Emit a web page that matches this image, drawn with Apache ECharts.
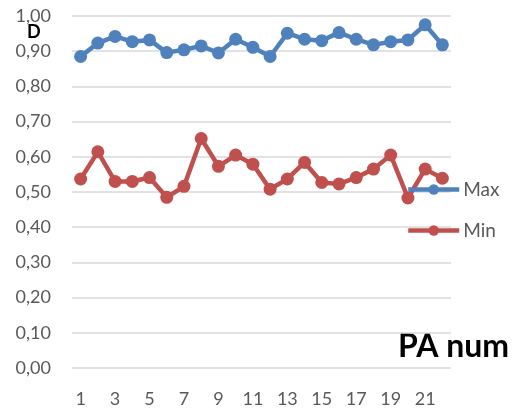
<!DOCTYPE html>
<html><head><meta charset="utf-8">
<script src="https://cdn.jsdelivr.net/npm/echarts@6/dist/echarts.min.js"></script>
<style>html,body{margin:0;padding:0;background:#fff}#c{width:516px;height:408px}</style>
</head><body><div id="c"></div>
<script>
const categories = [1,2,3,4,5,6,7,8,9,10,11,12,13,14,15,16,17,18,19,20,21,22];
const maxValues = [0.885,0.923,0.942,0.927,0.932,0.896,0.904,0.915,0.895,0.934,0.911,0.885,0.951,0.934,0.930,0.953,0.934,0.918,0.927,0.932,0.975,0.918];
const minValues = [0.537,0.614,0.530,0.530,0.541,0.485,0.516,0.652,0.573,0.605,0.579,0.508,0.537,0.584,0.527,0.523,0.541,0.565,0.605,0.483,0.565,0.539];
const seriesNames = ['Max','Min'];
const axisTitle = 'PA num';
const cornerLabel = 'D';

const font = 'Lato, "Noto Sans", sans-serif';
const colors = ['#4F81BD', '#C0504D'];
const chart = echarts.init(document.getElementById('c'));
chart.setOption({
  animation: false,
  grid: {left: 72, right: 65, top: 16, bottom: 38},
  xAxis: {
    type: 'category', data: categories, boundaryGap: true,
    axisLine: {show: false}, axisTick: {show: false},
    axisLabel: {interval: 1, color: '#595959', fontSize: 18, fontFamily: font, margin: 22}
  },
  yAxis: {
    type: 'value', min: 0, max: 1, interval: 0.1,
    axisLine: {show: false}, axisTick: {show: false},
    splitLine: {lineStyle: {color: '#d9d9d9', width: 1.5}},
    axisLabel: {color: '#595959', fontSize: 18, fontFamily: font, margin: 21,
      formatter: v => v.toFixed(2).replace('.', ',')}
  },
  legend: {
    orient: 'vertical', left: 401, top: 175, itemGap: 22,
    itemWidth: 51, itemHeight: 13,
    textStyle: {color: '#595959', fontSize: 19, fontFamily: font, padding: [0,0,0,-1]},
    data: seriesNames.map((n, i) => ({name: n, lineStyle: {width: 4.5, color: colors[i]}}))
  },
  graphic: [
    {type: 'text', left: 27, top: 23, style: {text: cornerLabel, font: 'bold 18px ' + font, fill: '#000'}},
    {type: 'text', left: 398, top: 331, style: {text: axisTitle, font: 'bold 32px ' + font, fill: '#000'}}
  ],
  series: [
    {name: seriesNames[0], type: 'line', data: maxValues, symbol: 'circle', symbolSize: 13, showAllSymbol: true,
     itemStyle: {color: colors[0]}, lineStyle: {color: colors[0], width: 4.5}},
    {name: seriesNames[1], type: 'line', data: minValues, symbol: 'circle', symbolSize: 13, showAllSymbol: true,
     itemStyle: {color: colors[1]}, lineStyle: {color: colors[1], width: 4.5}}
  ]
});
</script></body></html>
